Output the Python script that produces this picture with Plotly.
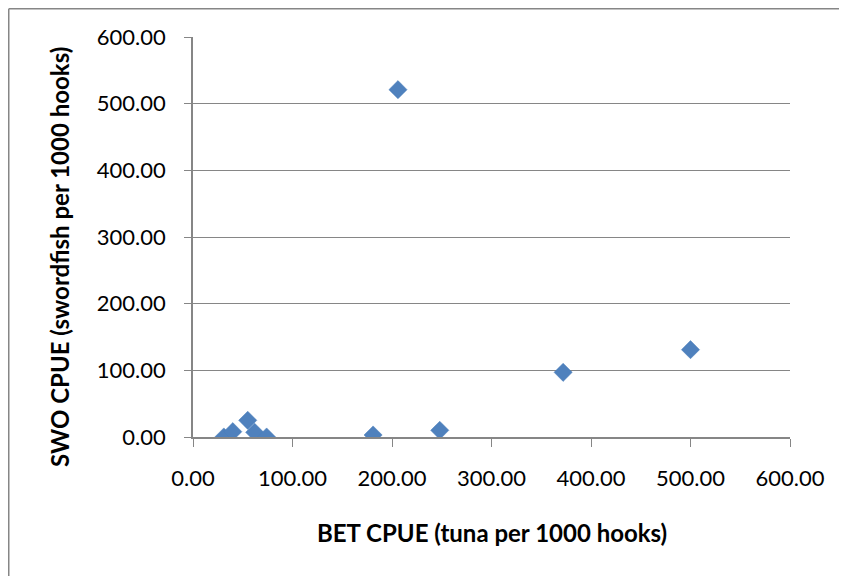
import plotly.graph_objects as go

# BET CPUE vs SWO CPUE
bet_cpue = [31, 40, 55, 62, 74, 181, 206, 248, 372, 500]
swo_cpue = [0, 8, 25, 7, 0, 3, 521, 10, 97, 131]
tick_values = [0, 100, 200, 300, 400, 500, 600]

x_title = "<b>BET CPUE (tuna per 1000 hooks)</b>"
y_title = "<b>SWO CPUE (swordfish per 1000 hooks)</b>"

FONT = "Lato"
GREY = "#868686"

# pixel layout of the plot area inside the figure
L, R, T, B = 185, 57, 29, 139
W, H = 839, 568
PW, PH = W - L - R, H - T - B

fig = go.Figure()

fig.add_trace(
    go.Scatter(
        x=bet_cpue,
        y=swo_cpue,
        mode="markers",
        marker=dict(symbol="diamond", size=14, color="#4F81BD",
                    line=dict(color="#4A7EBB", width=0.5)),
        showlegend=False,
    )
)

fig.update_layout(
    width=W,
    height=H,
    margin=dict(l=L, r=R, t=T, b=B),
    plot_bgcolor="white",
    paper_bgcolor="white",
    font=dict(family=FONT, size=22, color="black"),
    shapes=[
        # chart border: only top and left edges are in view
        dict(type="line", xref="paper", yref="paper",
             x0=-(L - 0.75) / PW, x1=(W - L) / PW,
             y0=1 + (T - 0.75) / PH, y1=1 + (T - 0.75) / PH,
             line=dict(color=GREY, width=1.5)),
        dict(type="line", xref="paper", yref="paper",
             x0=-(L - 0.75) / PW, x1=-(L - 0.75) / PW,
             y0=-B / PH, y1=1 + (T - 0.75) / PH,
             line=dict(color=GREY, width=1.5)),
    ],
    annotations=[
        dict(text=x_title, xref="paper", yref="paper",
             x=0.5, y=-95 / PH, xanchor="center", yanchor="middle",
             showarrow=False, font=dict(size=24)),
        dict(text=y_title, xref="paper", yref="paper", textangle=-90,
             x=-134 / PW, y=1 - 220 / PH, xanchor="center", yanchor="middle",
             showarrow=False, font=dict(size=24)),
    ],
)

fig.update_xaxes(
    range=[0, 600],
    tickvals=tick_values,
    tickformat=".2f",
    showgrid=False,
    zeroline=False,
    showline=True,
    linecolor=GREY,
    linewidth=1.5,
    ticks="outside",
    ticklen=8,
    tickcolor=GREY,
    ticklabelstandoff=13,
)

fig.update_yaxes(
    range=[0, 600],
    tickvals=tick_values,
    tickformat=".2f",
    showgrid=True,
    gridcolor=GREY,
    gridwidth=1,
    zeroline=False,
    showline=True,
    linecolor=GREY,
    linewidth=1.5,
    ticks="outside",
    ticklen=7,
    tickcolor=GREY,
    ticklabelstandoff=14,
)

fig.write_html("out.html")
